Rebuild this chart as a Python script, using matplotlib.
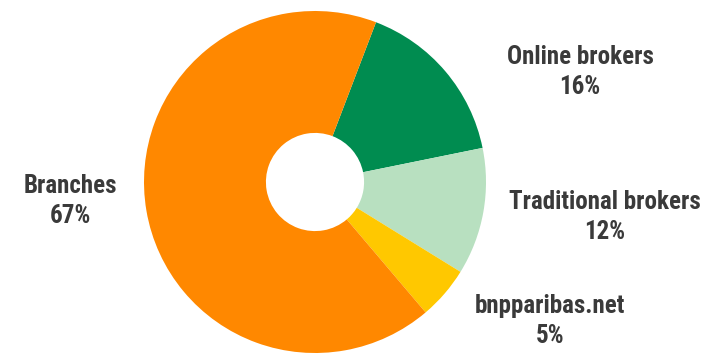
import matplotlib.pyplot as plt

labels = ['Online brokers', 'Traditional brokers', 'bnpparibas.net', 'Branches']
shares = [16, 12, 5, 67]
colors = ['#008C50', '#B8E0C0', '#FFC800', '#FF8800']

W, H = 723, 354
fig = plt.figure(figsize=(W / 100, H / 100), dpi=100)

# donut centre and radius in pixels
cx, cy, r = 315, 172, 171
ax = fig.add_axes([(cx - r) / W, (cy - r) / H, 2 * r / W, 2 * r / H])
ax.pie(shares, colors=colors, startangle=69.1, counterclock=False,
       radius=1, wedgeprops=dict(width=0.713, linewidth=0))
ax.set_xlim(-1, 1)
ax.set_ylim(-1, 1)
ax.axis('off')

label_pos = [(580, 72), (605, 217), (550, 321), (70, 201)]
for name, val, (x, y) in zip(labels, shares, label_pos):
    fig.text(x / W, 1 - y / H, f'{name}\n{val}%', ha='center', va='center',
             fontsize=18, fontweight='bold', color='#3a3a3a',
             family='Roboto Condensed', linespacing=1.32)

fig.savefig('out.png', dpi=100)
